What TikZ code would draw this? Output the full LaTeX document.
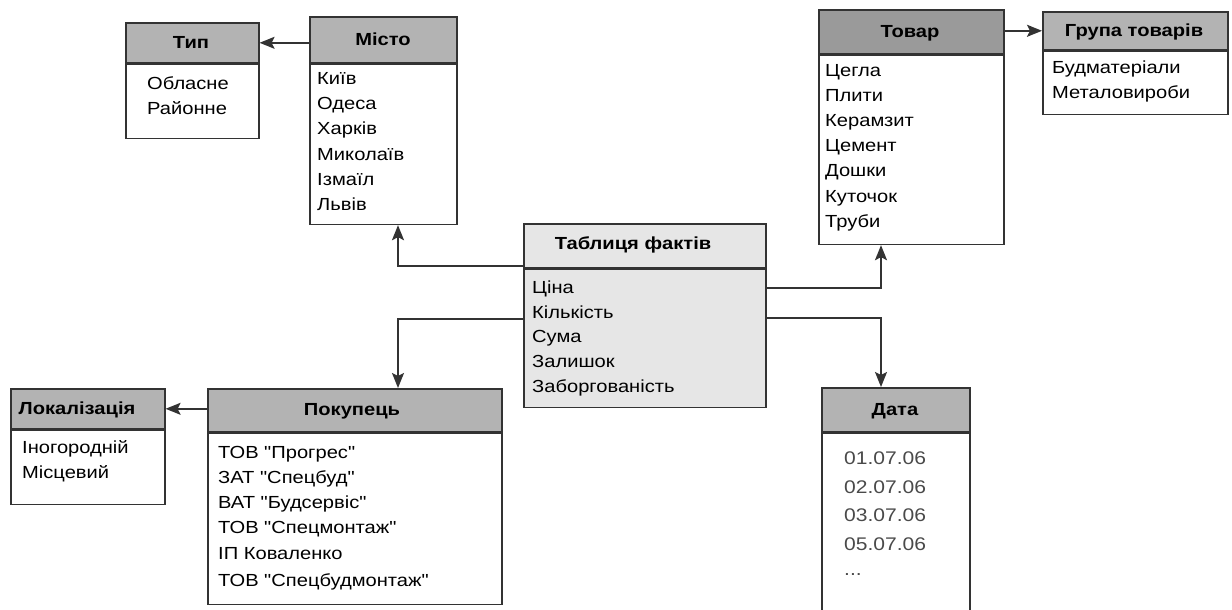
\documentclass[tikz,border=0pt]{standalone}
\usepackage{fontspec}
\setmainfont{Liberation Sans}[FakeStretch=1.15, Ligatures=TeXOff]
\usetikzlibrary{arrows.meta}
\definecolor{hdr}{HTML}{B3B3B3}
\definecolor{hdrdark}{HTML}{9A9A9A}
\definecolor{factfill}{HTML}{E6E6E6}
\definecolor{edge}{HTML}{333333}
\definecolor{datecol}{HTML}{4A4A4A}
\begin{document}
\begin{tikzpicture}[x=1pt,y=-1pt,
  box/.style={draw=edge, line width=1.6pt, rectangle, inner sep=0pt, anchor=north west},
  ttl/.style={font=\fontsize{17.5}{21}\selectfont\bfseries, inner sep=0pt, text height=12.6pt, text depth=0pt, anchor=center},
  itm/.style={font=\fontsize{17.5}{21}\selectfont, inner sep=0pt, text height=12.6pt, text depth=0pt, anchor=west},
  dateitm/.style={itm, font=\fontsize{18.3}{22}\selectfont, text=datecol},
  arr/.style={draw=edge, line width=1.6pt, -{Stealth[length=15pt,width=12pt,inset=3pt]}}]
\fill[white] (0,0) rectangle (1232,610);
\useasboundingbox (0,0) rectangle (1232,610);

% Тип
\node[box, fill=hdr, minimum width=133pt, minimum height=40pt] (tipH) at (125,22) {};
\node[box, fill=white, minimum width=133pt, minimum height=74pt] (tipB) at (tipH.south west) {};
\node[ttl] (tipT) at (191,42) {Тип};
\foreach \t [count=\i] in {Обласне,Районне}
  \node[itm] (tip\i) at (147,{83+25*(\i-1)}) {\t};

% Місто
\node[box, fill=hdr, minimum width=147pt, minimum height=46pt] (mistoH) at (309,16) {};
\node[box, fill=white, minimum width=147pt, minimum height=160pt] (mistoB) at (mistoH.south west) {};
\node[ttl] (mistoT) at (383,39) {Місто};
\foreach \t [count=\i] in {Київ,Одеса,Харків,Миколаїв,Ізмаїл,Львів}
  \node[itm] (misto\i) at (317,{78+25.3*(\i-1)}) {\t};

% Таблиця фактів
\node[box, fill=factfill, minimum width=242pt, minimum height=44pt] (tabH) at (523,223) {};
\node[box, fill=factfill, minimum width=242pt, minimum height=138pt] (tabB) at (tabH.south west) {};
\node[ttl] (tabT) at (633,243) {Таблиця фактів};
\foreach \t [count=\i] in {Ціна,Кількість,Сума,Залишок,Заборгованість}
  \node[itm] (tab\i) at (532,{287+24.75*(\i-1)}) {\t};

% Товар
\node[box, fill=hdrdark, minimum width=185pt, minimum height=44pt] (tovarH) at (818,9) {};
\node[box, fill=white, minimum width=185pt, minimum height=189pt] (tovarB) at (tovarH.south west) {};
\node[ttl] (tovarT) at (910,31) {Товар};
\foreach \t [count=\i] in {Цегла,Плити,Керамзит,Цемент,Дошки,Куточок,Труби}
  \node[itm] (tovar\i) at (825,{70+25.15*(\i-1)}) {\t};

% Група товарів
\node[box, fill=hdr, minimum width=185pt, minimum height=38pt] (grupaH) at (1042,11) {};
\node[box, fill=white, minimum width=185pt, minimum height=63pt] (grupaB) at (grupaH.south west) {};
\node[ttl] (grupaT) at (1134,30) {Група товарів};
\foreach \t [count=\i] in {Будматеріали,Металовироби}
  \node[itm] (grupa\i) at (1052,{67+25*(\i-1)}) {\t};

% Локалізація
\node[box, fill=hdr, minimum width=154pt, minimum height=40pt] (lokH) at (10,388) {};
\node[box, fill=white, minimum width=154pt, minimum height=74pt] (lokB) at (lokH.south west) {};
\node[ttl] (lokT) at (77,408) {Локалізація};
\foreach \t [count=\i] in {Іногородній,Місцевий}
  \node[itm] (lok\i) at (22,{447+25*(\i-1)}) {\t};

% Покупець
\node[box, fill=hdr, minimum width=294pt, minimum height=43pt] (pokH) at (207,388) {};
\node[box, fill=white, minimum width=294pt, minimum height=171pt] (pokB) at (pokH.south west) {};
\node[ttl] (pokT) at (352,409) {Покупець};
\foreach \t/\y [count=\i] in {ТОВ "Прогрес"/452,ЗАТ "Спецбуд"/477,ВАТ "Будсервіс"/502,ТОВ "Спецмонтаж"/527,ІП Коваленко/553,ТОВ "Спецбудмонтаж"/580}
  \node[itm] (pok\i) at (218,\y) {\t};

% Дата
\node[box, fill=hdr, minimum width=148pt, minimum height=44pt] (dataH) at (821,387) {};
\node[box, fill=white, minimum width=148pt, minimum height=250pt] (dataB) at (dataH.south west) {};
\node[ttl] (dataT) at (895,409) {Дата};
\foreach \t/\y [count=\i] in {01.07.06/458,02.07.06/486.7,03.07.06/515.3,05.07.06/544}
  \node[dateitm] (data\i) at (844,\y) {\t};
\node[dateitm] (data5) at (844,569) {...};

% connectors
\coordinate (c1) at (398,266);
\coordinate (c2) at (398,319);
\coordinate (c3) at (881,288);
\coordinate (c4) at (881,318);
\draw[arr] (tipH.east -| mistoH.west) -- (tipH.east);
\draw[arr] (grupaH.west -| tovarH.east) -- (grupaH.west);
\draw[arr] (lokH.east -| pokH.west) -- (lokH.east);
\draw[arr] (c1 -| tabH.west) -- (c1) -- (c1 |- mistoB.south);
\draw[arr] (c2 -| tabB.west) -- (c2) -- (c2 |- pokH.north);
\draw[arr] (c3 -| tabB.east) -- (c3) -- (c3 |- tovarB.south);
\draw[arr] (c4 -| tabB.east) -- (c4) -- (c4 |- dataH.north);
\end{tikzpicture}
\end{document}
